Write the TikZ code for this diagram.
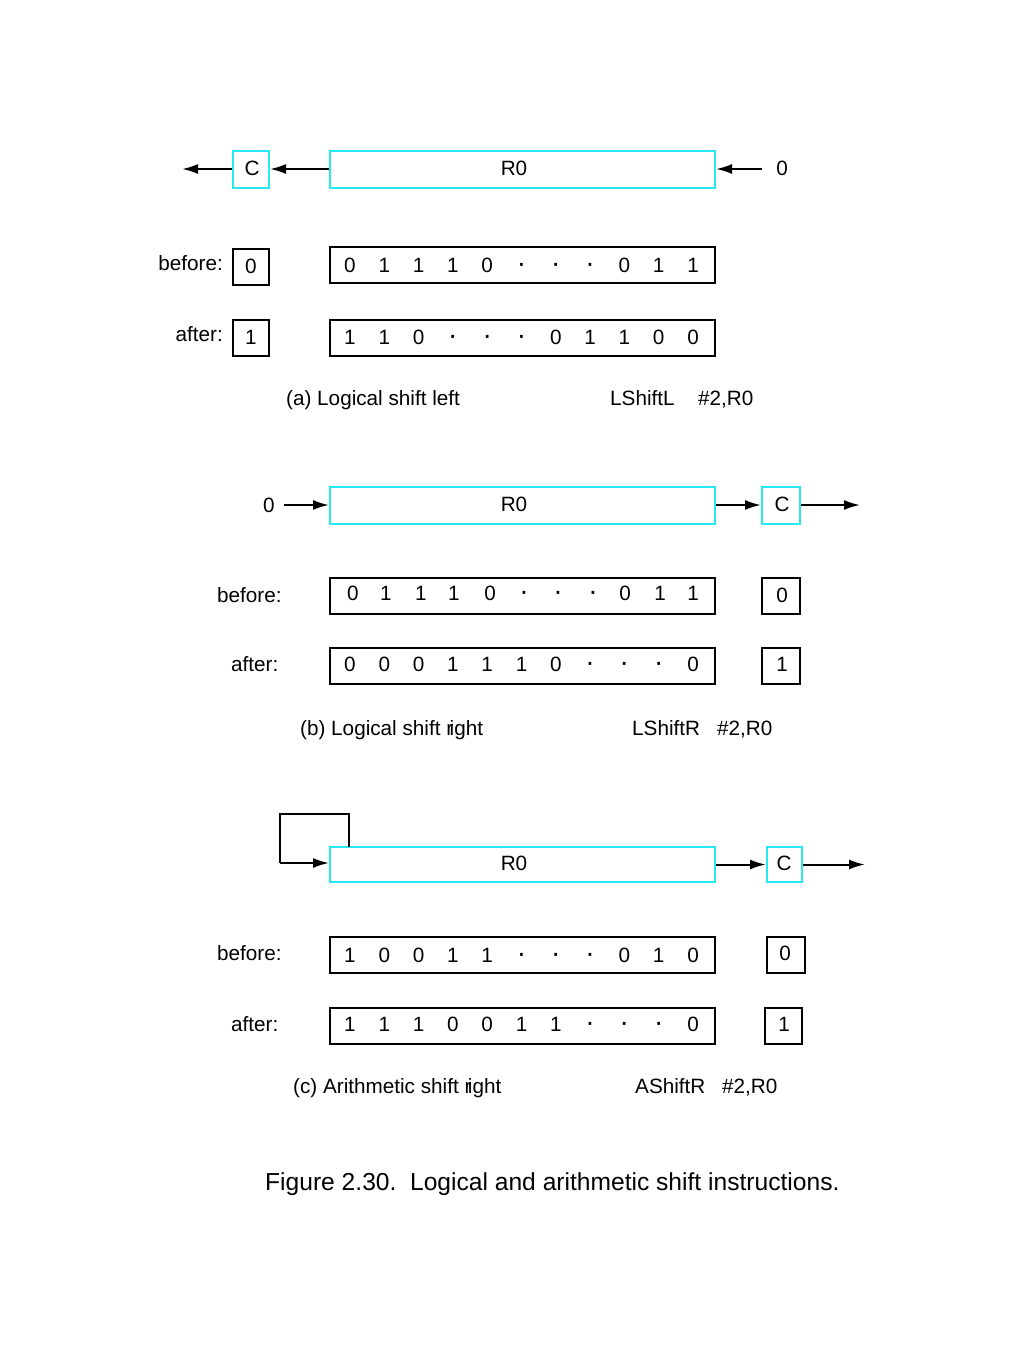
\documentclass[tikz,border=0pt]{standalone}
\usepackage{fontspec}
\setmainfont{Liberation Sans}
\usetikzlibrary{arrows.meta}
\definecolor{cy}{RGB}{40,232,240}
\newcommand{\dt}{{\fontsize{28}{28}\selectfont ·}}
\begin{document}
\begin{tikzpicture}[x=1pt,y=-1pt,
  every node/.style={font=\fontsize{20.7}{24}\selectfont, inner sep=0pt},
  cbox/.style={draw=cy, line width=2pt, minimum height=37pt},
  rowbox/.style={draw=black, line width=2pt, minimum width=385pt, minimum height=36pt},
  bitbox/.style={draw=black, line width=2pt, minimum width=36pt, minimum height=36pt},
  bit/.style={anchor=base},
  txt/.style={anchor=base west},
  arr/.style={line width=2pt, -{Latex[length=16pt,width=10pt]}},
  ln/.style={line width=2pt}]
\useasboundingbox (0,0) rectangle (1024,1365);

% ---------- (a) ----------
\node[cbox, minimum width=36pt] (ca) at (251,169) {};
\node (cal) at (252,168) {C};
\node[cbox, minimum width=385pt] (ra) at (522.5,169) {};
\node (ral) at (514,168) {R0};
\coordinate (aL) at (182,169);
\coordinate (aR) at (762,169);
\node (azero) at (782,168) {0};
\draw[arr] (ra.west) -- (ca.east);
\draw[arr] (ca.west) -- (aL);
\draw[arr] (aR) -- (ra.east);

\node[anchor=base east] (abef) at (223,270.5) {before:};
\node[bitbox] (abc) at (251,266.5) {};
\node[bit] (abcv) at (251,273) {0};
\node[rowbox] (abr) at (522.5,265) {};
\foreach \v [count=\i] in {0,1,1,1,0,\dt,\dt,\dt,0,1,1}
  \node[bit] (ab\i) at ({350+(\i-1)*34.3},272.5) {\v};

\node[anchor=base east] (aaft) at (223,341.5) {after:};
\node[bitbox] (aac) at (251,338) {};
\node[bit] (aacv) at (251,344) {1};
\node[rowbox] (aar) at (522.5,338) {};
\foreach \v [count=\i] in {1,1,0,\dt,\dt,\dt,0,1,1,0,0}
  \node[bit] (aa\i) at ({350+(\i-1)*34.3},344) {\v};

\node[txt] (acap) at (286,405.5) {(a) Logical shift left};
\node[txt] (ains) at (610,405.5) {LShiftL};
\node[txt] (aop) at (698,405.5) {\#2,R0};

% ---------- (b) ----------
\node (bzero) at (269,505) {0};
\coordinate (bL) at (284,505);
\node[cbox, minimum width=385pt] (rb) at (522.5,505) {};
\node (rbl) at (514,504) {R0};
\node[cbox, minimum width=38pt] (cb) at (781,505) {};
\node (cbl) at (782,504) {C};
\coordinate (bR) at (860,505);
\draw[arr] (bL) -- (rb.west);
\draw[arr] (rb.east) -- (cb.west);
\draw[arr] (cb.east) -- (bR);

\node[txt] (bbef) at (217,602.5) {before:};
\node[rowbox] (bbr) at (522.5,595.5) {};
\node[bitbox, minimum width=38pt] (bbc) at (781,595.5) {};
\node[bit] (bbcv) at (782,602.5) {0};
\foreach \v/\x [count=\i] in {0/353,1/386,1/421,1/454,0/490,\dt/524,\dt/558,\dt/593,0/625,1/660,1/693}
  \node[bit] (bb\i) at (\x,600.5) {\v};

\node[txt] (baft) at (231,671.5) {after:};
\node[rowbox] (bar) at (522.5,666) {};
\node[bitbox, minimum width=38pt] (bac) at (781,666) {};
\node[bit] (bacv) at (782,671.5) {1};
\foreach \v [count=\i] in {0,0,0,1,1,1,0,\dt,\dt,\dt,0}
  \node[bit] (ba\i) at ({350+(\i-1)*34.3},671.5) {\v};

\node[txt] (bcap) at (300,735.5) {(b) Logical shift r\kern-3.5pt ight};
\node[txt] (bins) at (632,735.5) {LShiftR};
\node[txt] (bop) at (717,735.5) {\#2,R0};

% ---------- (c) ----------
\node[cbox, minimum width=385pt, minimum height=35pt] (rc) at (522.5,864.5) {};
\node (rcl) at (514,863) {R0};
\node[cbox, minimum width=35pt, minimum height=35pt] (cc) at (784.5,864.5) {};
\node (ccl) at (784,863) {C};
\coordinate (cR) at (865,864.5);
\coordinate (lp1) at (349,847);
\coordinate (lp2) at (349,814);
\coordinate (lp3) at (280,814);
\coordinate (lp4) at (280,863);
\draw[ln, line join=miter] (lp1) -- (lp2) -- (lp3) -- (lp4);
\draw[arr] (lp4) -- (rc.west |- lp4);
\draw[arr] (rc.east) -- (cc.west);
\draw[arr] (cc.east) -- (cR);

\node[txt] (cbef) at (217,960.5) {before:};
\node[rowbox] (cbr) at (522.5,955) {};
\node[bitbox, minimum width=38pt] (cbc) at (786,955) {};
\node[bit] (cbcv) at (785,960.5) {0};
\foreach \v [count=\i] in {1,0,0,1,1,\dt,\dt,\dt,0,1,0}
  \node[bit] (cb\i) at ({350+(\i-1)*34.3},962.5) {\v};

\node[txt] (caft) at (231,1031.5) {after:};
\node[rowbox] (car) at (522.5,1026) {};
\node[bitbox, minimum width=37pt] (cac) at (783.5,1026) {};
\node[bit] (cacv) at (784,1031.5) {1};
\foreach \v [count=\i] in {1,1,1,0,0,1,1,\dt,\dt,\dt,0}
  \node[bit] (ca\i) at ({350+(\i-1)*34.3},1031.5) {\v};

\node[txt] (ccap) at (293,1093.5) {(c) Arithmetic shift r\kern-3.5pt ight};
\node[txt] (cins) at (635,1093.5) {AShiftR};
\node[txt] (cop) at (722,1093.5) {\#2,R0};

% ---------- figure caption ----------
\node[anchor=base west, font=\fontsize{24.6}{28}\selectfont] (fig) at (265,1190) {Figure 2.30.\ \ Logical and arithmetic shift instructions.};
\end{tikzpicture}
\end{document}
